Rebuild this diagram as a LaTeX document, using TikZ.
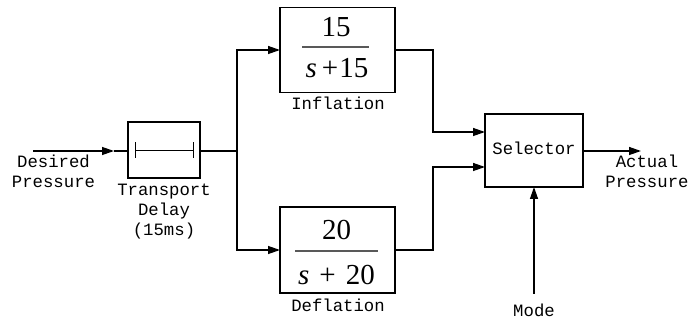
\documentclass[tikz,border=0pt]{standalone}
\usepackage{fontspec}
\setmainfont{Liberation Serif}
\newfontfamily\monof{Liberation Mono}
\usetikzlibrary{arrows.meta}
\begin{document}
\begin{tikzpicture}[x=1pt,y=-1pt,line width=1.3pt,
  >={Triangle[length=12pt,width=8pt]},
  blk/.style={draw,inner sep=0pt,outer sep=0pt},
  lbl/.style={font=\monof\fontsize{17.3}{20}\selectfont,align=center,inner sep=0pt},
  frac/.style={font=\fontsize{29}{30}\selectfont,inner sep=0pt},
  fbar/.style={draw=black!65,line width=1.4pt}]
\useasboundingbox (0,0) rectangle (689,320);
% blocks
\node[blk,minimum width=72pt,minimum height=56pt] (td) at (164,150) {};
\node[blk,minimum width=115pt,minimum height=85pt] (inf) at (337.5,50) {};
\node[blk,minimum width=115pt,minimum height=86pt] (def) at (337.5,250) {};
\node[blk,minimum width=98pt,minimum height=73pt] (sel) at (534,150.5) {};
% transport delay symbol
\coordinate (tdl) at (135,150);
\coordinate (tdr) at (193,150);
\draw[line width=0.9pt] (tdl) -- (tdr);
\draw[line width=0.9pt] ([yshift=-8pt]tdl) -- ([yshift=8pt]tdl);
\draw[line width=0.9pt] ([yshift=-8pt]tdr) -- ([yshift=8pt]tdr);
% fractions
\node[frac,anchor=base] (infnum) at (336,37) {15};
\node[frac,anchor=base] (infden) at (337,78) {\textit{s}\hspace{5pt}+\hspace{1pt}15};
\coordinate (ib1) at (302,47); \coordinate (ib2) at (369,47);
\draw[fbar] (ib1) -- (ib2);
\node[frac,anchor=base] (defnum) at (336.5,240) {20};
\node[frac,anchor=base] (defden) at (336.5,285) {\textit{s}\hspace{10pt}+\hspace{10pt}20};
\coordinate (db1) at (295,251); \coordinate (db2) at (378,251);
\draw[fbar] (db1) -- (db2);
% texts
\node[lbl] (desired) at (53.5,171.5) {Desired\\Pressure};
\node[lbl] (tdlbl) at (164,212) {Transport\\Delay\\(15ms)};
\node[lbl,anchor=base] (inflbl) at (338,110) {Inflation};
\node[lbl,anchor=base] (deflbl) at (338,312) {Deflation};
\node[lbl,anchor=base] (sellbl) at (534,155) {Selector};
\node[lbl] (actual) at (647,171.5) {Actual\\Pressure};
\node[lbl,anchor=base] (mode) at (534,317) {Mode};
% connectors
\coordinate (inpt) at (33,151);
\coordinate (intip) at (114,151);
\draw[->] (inpt) -- (intip);
\draw (intip) -- (td.west |- intip);
\coordinate (br) at (237,151);
\draw (td.east |- br) -- (br);
\coordinate (brt) at (237,50);
\coordinate (brb) at (237,250);
\draw[->] (br) -- (brt) -- (inf.west);
\draw[->] (br) -- (brb) -- (def.west);
\coordinate (c1) at (433,50);
\coordinate (c2) at (433,132);
\coordinate (s1) at (485,132);
\draw[->] (inf.east) -- (c1) -- (c2) -- (s1);
\coordinate (c3) at (433,250);
\coordinate (c4) at (433,167);
\coordinate (s2) at (485,167);
\draw[->] (def.east) -- (c3) -- (c4) -- (s2);
\coordinate (outtip) at (641,151);
\draw[->] (sel.east |- outtip) -- (outtip);
\coordinate (modept) at (534,294);
\draw[->] (modept) -- (sel.south);
\end{tikzpicture}
\end{document}
